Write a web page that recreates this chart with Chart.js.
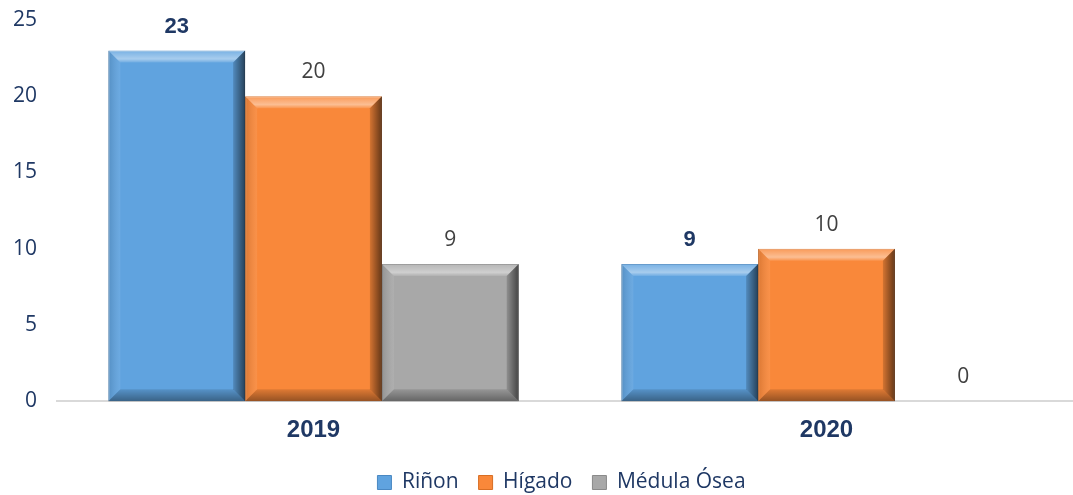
<!DOCTYPE html>
<html>
<head>
    <title>Trasplantes</title>
    <script src="https://cdn.jsdelivr.net/npm/chart.js"></script>
    <style>
        html, body { margin: 0; padding: 0; overflow: hidden; background: #fff; }
        #wrap { width: 1100px; height: 495px; position: relative; }
    </style>
</head>
<body>
    <div id="wrap"><canvas id="barChart"></canvas></div>
    <script>
        var years = ['2019', '2020'];
        var rinon = [23, 9];
        var higado = [20, 10];
        var medula = [9, 0];
        var yTicks = [0, 5, 10, 15, 20, 25];

        var navy = '#1f3864';

        // bevel look drawn over each bar
        var bevelPlugin = {
            id: 'bevel',
            afterDatasetsDraw: function (chart) {
                var ctx = chart.ctx;
                chart.data.datasets.forEach(function (ds, i) {
                    chart.getDatasetMeta(i).data.forEach(function (bar) {
                        var l = bar.x - bar.width / 2, r = bar.x + bar.width / 2;
                        var t = bar.y, b = bar.base;
                        if (b - t < 2) return;
                        var e = Math.min(12, (b - t) / 2);
                        ctx.save();
                        // top
                        var g = ctx.createLinearGradient(0, t, 0, t + e);
                        g.addColorStop(0, 'rgba(255,255,255,0.15)');
                        g.addColorStop(0.7, 'rgba(255,255,255,0.45)');
                        g.addColorStop(1, 'rgba(255,255,255,0.1)');
                        ctx.fillStyle = g;
                        ctx.beginPath();
                        ctx.moveTo(l, t); ctx.lineTo(r, t); ctx.lineTo(r - e, t + e); ctx.lineTo(l + e, t + e);
                        ctx.closePath(); ctx.fill();
                        // left
                        g = ctx.createLinearGradient(l, 0, l + e, 0);
                        g.addColorStop(0, 'rgba(0,0,0,0.12)');
                        g.addColorStop(1, 'rgba(255,255,255,0.08)');
                        ctx.fillStyle = g;
                        ctx.beginPath();
                        ctx.moveTo(l, t); ctx.lineTo(l + e, t + e); ctx.lineTo(l + e, b - e); ctx.lineTo(l, b);
                        ctx.closePath(); ctx.fill();
                        // right
                        g = ctx.createLinearGradient(r - e, 0, r, 0);
                        g.addColorStop(0, 'rgba(0,0,0,0.15)');
                        g.addColorStop(1, 'rgba(0,0,0,0.6)');
                        ctx.fillStyle = g;
                        ctx.beginPath();
                        ctx.moveTo(r, t); ctx.lineTo(r, b); ctx.lineTo(r - e, b - e); ctx.lineTo(r - e, t + e);
                        ctx.closePath(); ctx.fill();
                        // bottom
                        g = ctx.createLinearGradient(0, b - e, 0, b);
                        g.addColorStop(0, 'rgba(0,0,0,0.1)');
                        g.addColorStop(1, 'rgba(0,0,0,0.4)');
                        ctx.fillStyle = g;
                        ctx.beginPath();
                        ctx.moveTo(l, b); ctx.lineTo(r, b); ctx.lineTo(r - e, b - e); ctx.lineTo(l + e, b - e);
                        ctx.closePath(); ctx.fill();
                        ctx.restore();
                    });
                });
            }
        };

        // value labels above bars
        var labelPlugin = {
            id: 'valueLabels',
            afterDatasetsDraw: function (chart) {
                var ctx = chart.ctx;
                ctx.save();
                ctx.textAlign = 'center';
                ctx.textBaseline = 'middle';
                chart.data.datasets.forEach(function (ds, i) {
                    chart.getDatasetMeta(i).data.forEach(function (bar, j) {
                        if (i === 0) {
                            ctx.font = 'bold 22px "Liberation Sans", Arial, sans-serif';
                            ctx.fillStyle = navy;
                        } else {
                            ctx.font = '21px "Open Sans", "Noto Sans", sans-serif';
                            ctx.fillStyle = '#404040';
                        }
                        ctx.fillText(ds.data[j], bar.x, bar.y - 24);
                    });
                });
                ctx.restore();
            }
        };

        // nudge the legend a bit right, like the original
        var legendShift = {
            id: 'legendShift',
            afterLayout: function (chart) {
                if (chart.legend) {
                    chart.legend.left += 20;
                    chart.legend.right += 20;
                }
            }
        };

        var ctx = document.getElementById('barChart').getContext('2d');
        var barChart = new Chart(ctx, {
            type: 'bar',
            data: {
                labels: years,
                datasets: [
                    { label: 'Riñon', data: rinon, backgroundColor: '#60a3df', borderColor: '#4a88c2', borderWidth: 1 },
                    { label: 'Hígado', data: higado, backgroundColor: '#f9883a', borderColor: '#d86e24', borderWidth: 1 },
                    { label: 'Médula Ósea', data: medula, backgroundColor: '#a8a8a8', borderColor: '#8a8a8a', borderWidth: 1 }
                ]
            },
            options: {
                responsive: true,
                maintainAspectRatio: false,
                animation: false,
                layout: { padding: { top: 20, right: 17, bottom: -8 } },
                datasets: { bar: { categoryPercentage: 0.8, barPercentage: 1.0 } },
                plugins: {
                    tooltip: { enabled: false },
                    legend: {
                        position: 'bottom',
                        labels: {
                            color: navy,
                            font: { size: 21, family: '"Open Sans", "Noto Sans", sans-serif' },
                            boxWidth: 14,
                            boxHeight: 14,
                            padding: 20
                        }
                    }
                },
                scales: {
                    y: {
                        min: 0,
                        max: 25,
                        afterBuildTicks: function (scale) {
                            scale.ticks = yTicks.map(function (v) { return { value: v }; });
                        },
                        afterFit: function (scale) {
                            scale.width = 57;
                            scale.paddingTop = 0;
                            scale.paddingBottom = 0;
                        },
                        grid: { display: false },
                        border: { display: false },
                        ticks: {
                            color: navy,
                            padding: 12,
                            font: { size: 21, family: '"Open Sans", "Noto Sans", sans-serif' }
                        }
                    },
                    x: {
                        grid: { display: false },
                        border: { color: '#d9d9d9', width: 2 },
                        ticks: {
                            color: navy,
                            padding: 7,
                            font: { size: 24, weight: 'bold', family: '"Liberation Sans", Arial, sans-serif' }
                        }
                    }
                }
            },
            plugins: [bevelPlugin, labelPlugin, legendShift]
        });
    </script>
</body>
</html>
